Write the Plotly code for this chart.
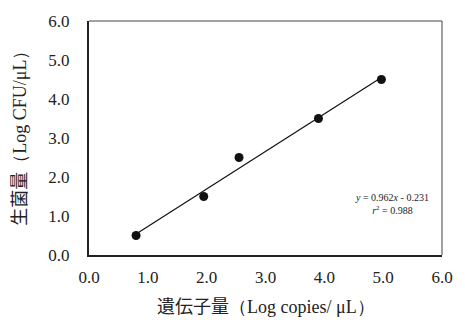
import plotly.graph_objects as go

x_vals = [0.8, 1.95, 2.55, 3.9, 4.97]
y_vals = [0.5, 1.5, 2.5, 3.5, 4.5]
slope = 0.962
intercept = -0.231
r2 = 0.988
tick_vals = [0, 1, 2, 3, 4, 5, 6]
tick_text = ["0.0", "1.0", "2.0", "3.0", "4.0", "5.0", "6.0"]

SERIF = "Liberation Serif, Times New Roman, serif"
JP = "Noto Sans CJK JP"

xmin, xmax = min(x_vals), max(x_vals)
fig = go.Figure()
fig.add_trace(go.Scatter(x=[xmin, xmax], y=[slope * xmin + intercept, slope * xmax + intercept],
                         mode="lines", line=dict(color="#111", width=1.2), hoverinfo="skip"))
fig.add_trace(go.Scatter(x=x_vals, y=y_vals, mode="markers",
                         marker=dict(color="#111", size=9)))

axis_common = dict(range=[0, 6], tickvals=tick_vals, ticktext=tick_text, showgrid=False,
                   zeroline=False, showline=True, linecolor="#222", linewidth=2,
                   tickfont=dict(family=SERIF, size=17, color="#222"), ticks="")
fig.update_xaxes(**axis_common, ticklabelstandoff=6)
fig.update_yaxes(**axis_common, ticklabelstandoff=14)

fig.add_shape(type="line", xref="paper", yref="paper", x0=0, x1=1, y0=1, y1=1,
              line=dict(color="#444", width=1))
fig.add_shape(type="line", xref="paper", yref="paper", x0=1, x1=1, y0=0, y1=1,
              line=dict(color="#444", width=1))

fig.add_annotation(xref="paper", yref="paper", x=0.5, y=-0.215, yanchor="middle", showarrow=False,
                   text='<span style="font-family:' + JP + '">遺伝子量</span>（Log copies/ μL）',
                   font=dict(family=SERIF, size=18, color="#222"))
fig.add_annotation(xref="paper", yref="paper", x=-0.2, y=0.52, xanchor="center", yanchor="middle",
                   showarrow=False, textangle=-90,
                   text='<span style="font-family:' + JP + '">生菌量</span>（Log CFU/μL）',
                   font=dict(family=SERIF, size=18, color="#222"))
fig.add_annotation(x=5.15, y=1.32, showarrow=False,
                   text=f"<i>y</i> = {slope}<i>x</i> - {abs(intercept)}<br><i>r</i><sup>2</sup> = {r2}",
                   font=dict(family=SERIF, size=10, color="#222"))

fig.update_layout(width=465, height=320, margin=dict(l=89, r=16, t=17, b=65),
                  plot_bgcolor="white", paper_bgcolor="white", showlegend=False)
fig.write_html("out.html")
